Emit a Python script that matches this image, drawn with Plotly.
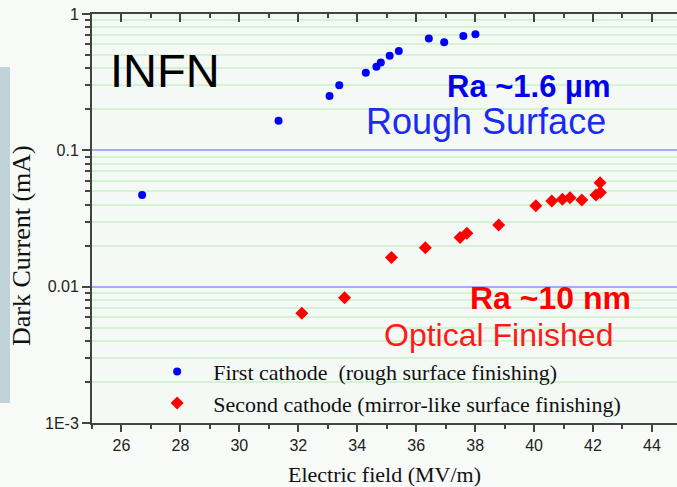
import plotly.graph_objects as go

# ---------------- data ----------------
first_field = [26.7, 31.33, 33.06, 33.39, 34.29, 34.65, 34.8, 35.1, 35.41, 36.43, 36.95, 37.6, 38.01]
first_current = [0.047, 0.165, 0.25, 0.30, 0.37, 0.41, 0.44, 0.494, 0.535, 0.66, 0.62, 0.69, 0.71]

second_field = [32.12, 33.57, 35.16, 36.31, 37.49, 37.72, 38.8, 40.06, 40.6, 40.96, 41.22, 41.62, 42.1, 42.25, 42.24]
second_current = [0.00637, 0.0083, 0.0164, 0.0193, 0.0229, 0.0246, 0.0283, 0.0392, 0.0425, 0.0437, 0.0449, 0.0432, 0.047, 0.049, 0.0578]

first_name = "First cathode  (rough surface finishing)"
second_name = "Second cathode (mirror-like surface finishing)"

y_tick_vals = [0.001, 0.01, 0.1, 1]
y_tick_text = ["1E-3", "0.01", "0.1", "1"]
x_range = [25, 44.85]

# ---------------- figure ----------------
minor_vals = [m * 10 ** e for e in (-3, -2, -1) for m in range(2, 10)]

fig = go.Figure()
fig.add_trace(go.Scatter(
    x=first_field, y=first_current, mode="markers", name=first_name,
    marker=dict(symbol="circle", size=8, color="#0000ff"),
))
fig.add_trace(go.Scatter(
    x=second_field, y=second_current, mode="markers", name=second_name,
    marker=dict(symbol="diamond", size=10, color="#ff0000"),
))
# invisible trace to activate the top mirror axis
fig.add_trace(go.Scatter(x=[], y=[], xaxis="x2", showlegend=False))

axis_col = "#444444"
tick_font = dict(family="Liberation Sans, Arial, sans-serif", size=16, color="#222222")
serif = "Liberation Serif, Times New Roman, serif"

fig.update_layout(
    width=677, height=487,
    margin=dict(l=92, r=0, t=14, b=64),
    paper_bgcolor="#f7faf7",
    plot_bgcolor="#f5f9f5",
    showlegend=True,
    legend=dict(
        x=0.084, y=0.177, xanchor="left", yanchor="top",
        bgcolor="rgba(0,0,0,0)", borderwidth=0,
        font=dict(family=serif, size=22, color="#111111"),
        itemwidth=62,
    ),
    xaxis=dict(
        range=x_range, dtick=2, tick0=0,
        showline=True, linecolor=axis_col, linewidth=2,
        ticks="outside", ticklen=7, tickwidth=2, tickcolor=axis_col,
        minor=dict(dtick=1, ticks="outside", ticklen=4, tickwidth=1.5, tickcolor=axis_col),
        showgrid=False, zeroline=False,
        tickfont=tick_font,
        title=dict(text="Electric field (MV/m)", font=dict(family=serif, size=22, color="#111111"), standoff=14),
    ),
    xaxis2=dict(
        overlaying="x", matches="x", side="top", anchor="y",
        showline=True, linecolor=axis_col, linewidth=2,
        ticks="inside", ticklen=8, tickwidth=2, tickcolor=axis_col, dtick=2, tick0=0,
        minor=dict(dtick=1, ticks="inside", ticklen=4, tickwidth=1.5, tickcolor=axis_col),
        showticklabels=False, showgrid=False, zeroline=False,
    ),
    yaxis=dict(
        type="log", range=[-3, 0],
        tickvals=y_tick_vals, ticktext=y_tick_text,
        showline=True, linecolor=axis_col, linewidth=2,
        ticks="outside", ticklen=8, tickwidth=2, tickcolor=axis_col,
        minor=dict(tickvals=minor_vals, ticks="outside", ticklen=5, tickwidth=1.5, tickcolor=axis_col,
                   showgrid=True, gridcolor="rgba(160,235,160,0.4)", gridwidth=1.5),
        showgrid=True, gridcolor="#a9a9f5", gridwidth=2,
        zeroline=False,
        tickfont=tick_font,
    ),
    shapes=[
        dict(type="rect", xref="paper", yref="paper", layer="below",
             x0=-92 / 585, x1=-82 / 585, y0=(423 - 403) / 409, y1=(423 - 67) / 409,
             fillcolor="#bfd3d9", line=dict(width=0)),
    ],
)

sans = "Liberation Sans, Arial, sans-serif"
ann = [
    dict(text="INFN", x=0.027, y=0.863, xanchor="left", font=dict(family=sans, size=47, color="#000000")),
    dict(text="<b>Ra ~1.6 µm</b>", x=0.603, y=0.822, xanchor="left", font=dict(family=sans, size=31, color="#0000ee")),
    dict(text="Rough Surface", x=0.465, y=0.738, xanchor="left", font=dict(family=sans, size=36, color="#1a2cf0")),
    dict(text="<b>Ra ~10 nm</b>", x=0.643, y=0.305, xanchor="left", font=dict(family=sans, size=32, color="#ff0000")),
    dict(text="Optical Finished", x=0.495, y=0.215, xanchor="left", font=dict(family=sans, size=32, color="#ff1a1a")),
    # y-axis title (placed as in the reference, slightly below the axis middle)
    dict(text="Dark Current (mA)", x=(22 - 92) / 585, y=(423 - 246) / 409, xanchor="center", textangle=-90,
         font=dict(family=serif, size=26, color="#111111")),
]
for a in ann:
    fig.add_annotation(xref="paper", yref="paper", yanchor="middle", showarrow=False, **a)

fig.write_html("out.html", config={"displayModeBar": False},
               post_script="document.body.style.margin='0';document.body.style.overflow='hidden';")
